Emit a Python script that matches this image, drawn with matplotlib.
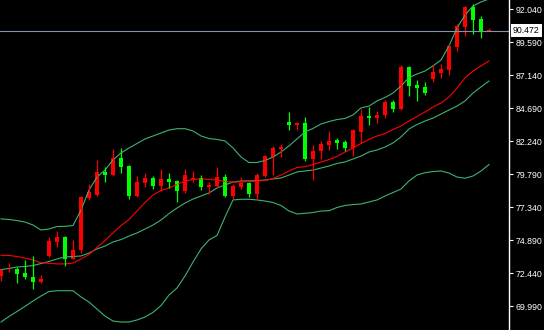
import numpy as np
import matplotlib
matplotlib.use("Agg")
import matplotlib.pyplot as plt

# daily candles (price units)
opens = [72.28, 72.75, 72.77, 72.48, 72.18, 71.83, 73.74, 74.80, 75.17, 73.54,
         74.19, 78.07, 78.27, 79.98, 79.75, 81.02, 80.42, 78.19, 79.16, 79.53,
         78.94, 79.46, 79.31, 78.56, 79.38, 79.53, 78.86, 78.94, 79.60, 78.19,
         78.86, 79.16, 78.34, 79.68, 81.09, 81.68, 83.69, 83.46, 83.61, 80.94,
         81.53, 81.98, 82.35, 82.20, 81.76, 82.95, 84.13, 83.98, 84.21, 85.17,
         84.65, 87.77, 86.43, 86.29, 86.88, 87.33, 87.55, 89.26, 90.74, 92.23,
         91.33, 90.42]
highs = [72.80, 73.20, 72.92, 73.44, 73.74, 72.33, 75.17, 75.62, 75.22, 74.93,
         78.19, 79.08, 80.87, 80.37, 81.68, 81.76, 80.46, 79.68, 79.90, 79.68,
         80.20, 79.90, 79.38, 80.20, 80.05, 79.75, 79.23, 80.35, 79.83, 79.08,
         79.60, 79.23, 79.90, 81.24, 81.91, 82.05, 84.43, 83.69, 84.06, 81.98,
         82.28, 83.02, 82.50, 82.35, 83.17, 84.65, 84.80, 84.50, 85.32, 85.32,
         87.92, 87.85, 86.81, 86.66, 87.92, 87.99, 89.40, 90.96, 92.30, 92.45,
         91.56, 90.67]
lows = [71.88, 72.57, 71.76, 72.05, 71.31, 71.71, 73.63, 74.44, 73.02, 73.52,
        73.93, 77.90, 78.19, 79.26, 79.70, 79.90, 77.97, 78.15, 78.86, 78.71,
        78.56, 78.79, 77.75, 78.42, 79.27, 78.64, 78.34, 78.79, 78.12, 77.97,
        78.71, 78.12, 77.93, 79.57, 79.75, 81.09, 83.09, 83.09, 80.79, 79.38,
        80.94, 81.61, 81.68, 81.57, 81.16, 82.13, 83.46, 83.61, 83.98, 84.43,
        84.58, 85.62, 85.25, 85.69, 86.66, 86.96, 87.18, 88.96, 90.07, 90.22,
        89.92, 90.41]
closes = [72.77, 72.83, 72.43, 72.18, 71.83, 72.03, 74.87, 75.15, 73.55, 74.19,
          78.12, 78.49, 79.98, 79.75, 81.02, 80.37, 78.19, 79.23, 79.53, 78.94,
          79.46, 79.23, 78.56, 79.75, 79.53, 78.86, 79.01, 79.60, 78.19, 78.94,
          79.16, 78.34, 79.75, 81.16, 81.76, 81.83, 83.46, 83.61, 80.94, 81.53,
          82.05, 82.28, 82.13, 81.76, 83.09, 84.13, 83.98, 84.21, 85.17, 84.65,
          87.77, 86.36, 86.21, 85.84, 87.40, 87.62, 89.33, 90.81, 92.23, 91.26,
          90.37, 90.472]

# bollinger bands (green) and moving average (red)
bb_upper = [76.49, 76.45, 76.37, 76.26, 76.04, 75.67, 75.74, 75.93, 75.94, 76.00,
            77.15, 78.64, 79.60, 80.12, 80.87, 81.39, 81.76, 82.09, 82.43, 82.65,
            82.87, 83.09, 83.19, 83.19, 83.02, 82.65, 82.46, 82.39, 82.28, 81.76,
            81.09, 80.68, 80.68, 80.83, 81.09, 81.46, 81.91, 82.43, 82.95, 83.21,
            83.54, 83.72, 83.87, 83.95, 84.21, 84.73, 84.87, 85.25, 85.51, 85.84,
            86.36, 86.99, 87.25, 87.47, 87.85, 88.29, 89.33, 90.67, 91.63, 92.30,
            92.60, 92.82]
bb_mid = [72.73, 72.81, 72.92, 72.96, 73.03, 73.18, 73.33, 73.52, 73.67, 73.70,
          73.74, 73.96, 74.26, 74.48, 74.78, 74.96, 75.22, 75.45, 75.74, 76.04,
          76.41, 76.89, 77.30, 77.67, 77.97, 78.19, 78.42, 78.79, 79.01, 79.23,
          79.31, 79.31, 79.34, 79.38, 79.46, 79.53, 79.75, 79.98, 80.05, 80.12,
          80.27, 80.42, 80.61, 80.72, 80.94, 81.16, 81.46, 81.61, 81.83, 82.13,
          82.58, 83.17, 83.50, 83.76, 83.98, 84.28, 84.58, 84.87, 85.25, 85.84,
          86.29, 86.73]
bb_lower = [68.84, 69.25, 69.62, 70.00, 70.40, 70.77, 71.10, 71.16, 71.16, 71.16,
            70.70, 70.32, 69.80, 69.28, 68.91, 68.84, 68.84, 68.99, 69.21, 69.55,
            70.06, 70.84, 71.36, 72.25, 73.29, 74.26, 74.93, 75.26, 76.63, 77.90,
            77.95, 77.95, 77.90, 77.82, 77.71, 77.49, 77.08, 76.86, 76.91, 76.97,
            77.08, 77.10, 77.34, 77.49, 77.56, 77.60, 77.75, 77.90, 78.19, 78.45,
            78.71, 79.31, 79.75, 79.92, 80.01, 80.05, 79.90, 79.60, 79.51, 79.68,
            80.05, 80.53]
ma_red = [73.79, 73.78, 73.70, 73.59, 73.44, 73.24, 73.20, 73.15, 73.15, 73.22,
          73.52, 73.85, 74.37, 74.89, 75.45, 76.00, 76.45, 77.08, 77.71, 78.27,
          78.60, 78.79, 79.05, 79.31, 79.42, 79.46, 79.42, 79.38, 79.27, 79.23,
          79.23, 79.27, 79.31, 79.34, 79.49, 79.75, 80.05, 80.31, 80.37, 80.53,
          80.72, 80.90, 81.13, 81.46, 81.76, 82.09, 82.39, 82.65, 82.83, 83.13,
          83.39, 83.76, 84.10, 84.43, 84.80, 85.10, 85.54, 86.21, 86.96, 87.47,
          87.85, 88.22]

price_ticks = [69.99, 72.44, 74.89, 77.34, 79.79, 82.24, 84.69, 87.14, 89.59, 92.04]
last_price = 90.472


def main():
    fig = plt.figure(figsize=(5.44, 3.30), dpi=100, facecolor='black')
    ax = fig.add_axes([0, 0, 509 / 544, 1])
    ax.set_facecolor('black')

    x = np.arange(len(opens))
    o = np.array(opens)
    c = np.array(closes)
    colors = np.where(c >= o, '#ff0000', '#00ff00')

    # lines first, candles on top
    ax.plot(x, bb_upper, color='#3cb371', lw=0.8)
    ax.plot(x, bb_mid, color='#3cb371', lw=0.8)
    ax.plot(x, bb_lower, color='#3cb371', lw=0.8)
    ax.plot(x, ma_red, color='#ff0000', lw=0.8)

    ax.vlines(x, lows, highs, colors=colors, lw=0.9)
    ax.bar(x, np.maximum(np.abs(c - o), 0.07), bottom=np.minimum(o, c),
           width=0.62, color=colors, linewidth=0)

    ax.axhline(last_price, color='#8494a8', lw=0.8)

    ax.set_xlim(-0.125, 63.5)
    ax.set_ylim(68.245, 92.745)
    ax.set_xticks([])
    ax.yaxis.tick_right()
    ax.set_yticks(price_ticks)
    ax.set_yticklabels([f'{v:.3f}' for v in price_ticks], family='Liberation Sans')
    ax.tick_params(axis='y', colors='white', length=3, width=0.8, pad=1.5, labelsize=6.3)
    for s in ['left', 'top', 'bottom']:
        ax.spines[s].set_visible(False)
    ax.spines['right'].set_color('white')
    ax.spines['right'].set_linewidth(1)

    # current price box
    ax.text(1.0 + 4 / 509, last_price, f'{last_price:.3f}', transform=ax.get_yaxis_transform(),
            ha='left', va='center', fontsize=6.3, family='Liberation Sans', color='black',
            bbox=dict(boxstyle='square,pad=0.2', facecolor='white', edgecolor='none'),
            clip_on=False)

    fig.savefig('out.png', dpi=100, facecolor='black')


if __name__ == "__main__":
    main()
